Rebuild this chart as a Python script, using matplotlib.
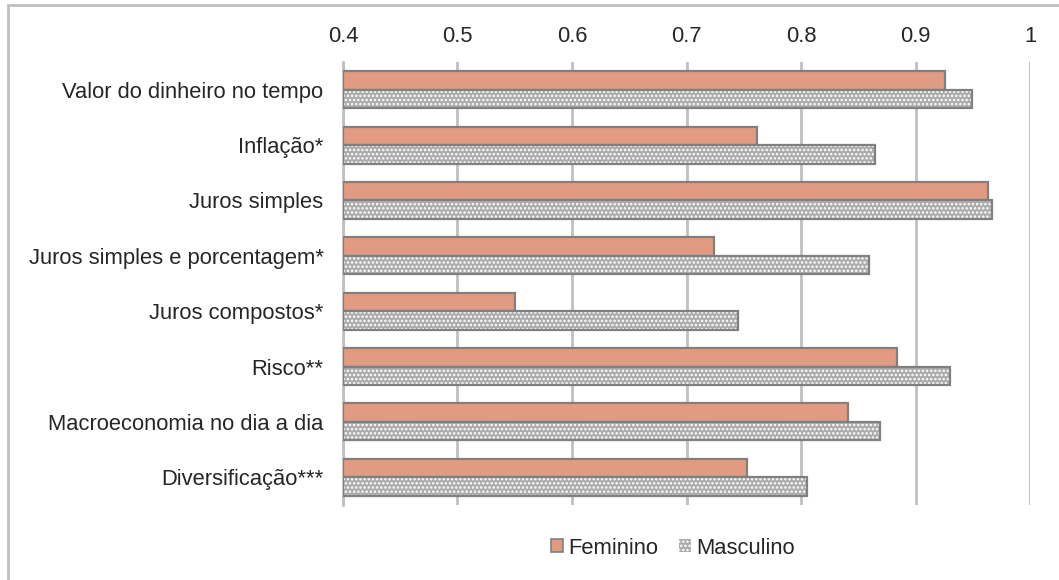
import matplotlib
matplotlib.use("Agg")
import matplotlib.pyplot as plt
from matplotlib.patches import Patch
import numpy as np

categories = [
    "Valor do dinheiro no tempo",
    "Inflação*",
    "Juros simples",
    "Juros simples e porcentagem*",
    "Juros compostos*",
    "Risco**",
    "Macroeconomia no dia a dia",
    "Diversificação***",
]
feminino = [0.926, 0.762, 0.963, 0.724, 0.550, 0.884, 0.841, 0.753]
masculino = [0.949, 0.865, 0.967, 0.859, 0.745, 0.930, 0.869, 0.805]
xticks = [0.4, 0.5, 0.6, 0.7, 0.8, 0.9, 1.0]
xtick_labels = ["0.4", "0.5", "0.6", "0.7", "0.8", "0.9", "1"]

plt.rcParams["font.family"] = ["Liberation Sans", "DejaVu Sans"]
plt.rcParams["hatch.linewidth"] = 1.2

FS = 15.8
TXT = "#262626"

fig = plt.figure(figsize=(10.59, 5.80), dpi=100)
ax = fig.add_axes([343 / 1059, 1 - 505 / 580, (1030 - 343) / 1059, (505 - 62) / 580])

y = np.arange(len(categories))
h = 0.335
edge = "#808080"
fem_color = "#e29b80"
masc_face = "#ababab"

ax.barh(y - h / 2, np.array(feminino) - 0.4, left=0.4, height=h,
        color=fem_color, edgecolor=edge, linewidth=1.6, zorder=3)
# patterned fill, then outline on top
ax.barh(y + h / 2, np.array(masculino) - 0.4, left=0.4, height=h,
        color=masc_face, edgecolor="white", hatch="....", linewidth=0, zorder=3)
ax.barh(y + h / 2, np.array(masculino) - 0.4, left=0.4, height=h,
        fill=False, edgecolor=edge, linewidth=1.6, zorder=4)

ax.set_xlim(0.4, 1.0)
ax.set_ylim(len(categories) - 0.5, -0.5)
ax.set_xticks(xticks)
ax.set_xticklabels(xtick_labels)
ax.xaxis.tick_top()
ax.set_yticks(y)
ax.set_yticklabels(categories)
ax.tick_params(axis="x", length=0, pad=11, labelsize=FS, labelcolor=TXT)
ax.tick_params(axis="y", length=0, pad=14, labelsize=FS, labelcolor=TXT)
ax.grid(axis="x", color="#c0c0c0", linewidth=2, zorder=0)
for s in ["top", "right", "bottom"]:
    ax.spines[s].set_visible(False)
ax.spines["left"].set_color("#c0c0c0")
ax.spines["left"].set_linewidth(2)

# outer chart frame
frame = plt.Rectangle((8 / 1059, -0.1), 1.2, 1 - 5 / 580 + 0.1, transform=fig.transFigure,
                      fill=False, edgecolor="#bfbfbf", linewidth=2, zorder=0)
fig.patches.append(frame)

handles = [
    Patch(facecolor=fem_color, edgecolor=edge, linewidth=1.2),
    Patch(facecolor=masc_face, edgecolor="white", hatch="....", linewidth=0),
]
leg = fig.legend(handles, ["Feminino", "Masculino"], loc="center",
                 bbox_to_anchor=(673 / 1059, 1 - 548 / 580), ncol=2, frameon=False,
                 fontsize=FS, handlelength=0.55, handleheight=0.55, handletextpad=0.25,
                 columnspacing=0.95, borderpad=0.2)
for t in leg.get_texts():
    t.set_color(TXT)

fig.savefig("out.png", dpi=100, facecolor="white")
